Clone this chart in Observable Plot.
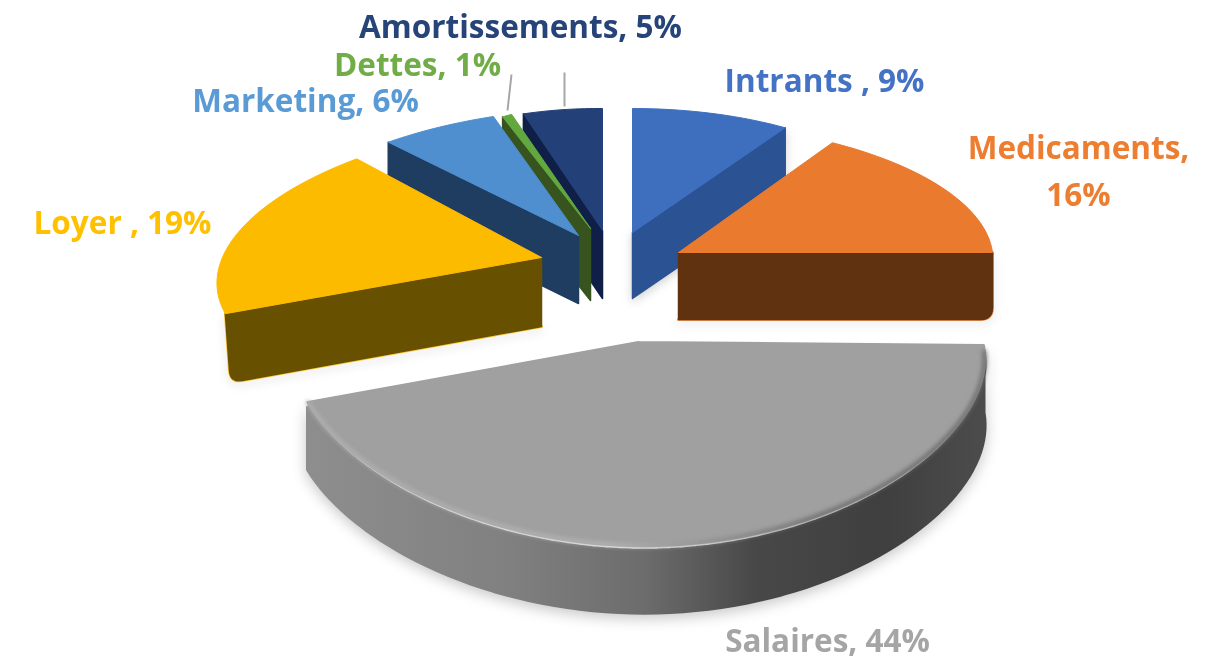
<!DOCTYPE html>
<html><head><meta charset="utf-8">
<script src="https://cdn.jsdelivr.net/npm/d3@7"></script>
<script src="https://cdn.jsdelivr.net/npm/@observablehq/plot@0.6"></script>
<style>html,body{margin:0;padding:0;background:#fff}svg{display:block}</style>
</head><body><div id="chart"></div>
<script>
// data
const categories = ["Intrants ", "Medicaments", "Salaires", "Loyer ", "Marketing", "Dettes", "Amortissements"];
const shares = [9, 16, 44, 19, 6, 1, 5];
const labelTexts = ["Intrants , 9%", "Medicaments,\n16%", "Salaires, 44%", "Loyer , 19%", "Marketing, 6%", "Dettes, 1%", "Amortissements, 5%"];
// styles
const topColors = ["#3e6fbf", "#ea7a2e", "#a0a0a0", "#fdbb00", "#4f8ecf", "#62a83f", "#234178"];
const wallColors = ["#2b5393", "#60320f", "#555555", "#675000", "#1f3d60", "#37541f", "#0f1f47"];
const labelColors = ["#4472c4", "#ed7d31", "#a5a5a5", "#ffc000", "#5b9bd5", "#70ad47", "#264478"];
// layout of the exploded perspective view, one entry per slice
const view = [
  {cx: 632, cy: 232, a: 285, b: 0, c: 0, d: 124, py: 0, depth: 66, wall: "end"},
  {cx: 678, cy: 252, a: 314, b: 17, c: 0, d: 130, py: 0, depth: 67, wall: "end", round: 12, edge: true},
  {cx: 638, cy: 342, a: 345, b: 0, c: 3, d: 157, py: 0.227, px: 0.08, depth: 67, wall: null},
  {cx: 541, cy: 257, a: 321, b: -48, c: -5, d: 140, py: 0, depth: 69, wall: "start", lean: 5, round: 12, edge: true},
  {cx: 578, cy: 235, a: 312, b: -32, c: 0, d: 128, py: 0, depth: 68, wall: "start"},
  {cx: 590, cy: 228, a: 163, b: 30, c: 0, d: 120, py: 0, depth: 72, wall: "start"},
  {cx: 602, cy: 230, a: 256, b: 0, c: 2, d: 122, py: 0, depth: 68, wall: "start"}
];
const labelPos = [[824, 76], [1078, 167], [827, 636], [122, 218], [305, 96], [417, 60], [520, 22]];
const leaders = [{from: 5, x1: 511, y1: 74, x2: 507, y2: 110}, {from: 6, x1: 564, y1: 72, x2: 564, y2: 106}];
const paintOrder = [6, 5, 4, 3, 0, 1, 2];

// geometry derived from the values
const total = d3.sum(shares);
const cum = d3.cumsum(shares);
const angles = shares.map((s, i) => [((cum[i] - s) / total) * 2 * Math.PI, (cum[i] / total) * 2 * Math.PI]);
function project(v, t, down = 0, lean = 0) {
  const u = Math.sin(t), w = -Math.cos(t);
  const s = 1 / (1 - v.py * w), sx = 1 / (1 - (v.px || 0) * w);
  return {x: v.cx + (v.a * u) * sx + v.b * w + lean, y: v.cy + (v.c * u + v.d * w) * s + down};
}
function arc(v, t0, t1, down = 0) {
  const n = Math.max(4, Math.ceil((t1 - t0) / (Math.PI / 90)));
  return d3.range(n + 1).map((k) => project(v, t0 + ((t1 - t0) * k) / n, down));
}
const apex = (v, down = 0) => ({x: v.cx, y: v.cy + down});
function rounded(a, p, b, r) {
  const toward = (q) => { const l = Math.hypot(q.x - p.x, q.y - p.y); return {x: p.x + (r * (q.x - p.x)) / l, y: p.y + (r * (q.y - p.y)) / l}; };
  const q1 = toward(a), q2 = toward(b);
  return d3.range(7).map((k) => { const m = k / 6, n = 1 - m; return {x: n * n * q1.x + 2 * n * m * p.x + m * m * q2.x, y: n * n * q1.y + 2 * n * m * p.y + m * m * q2.y}; });
}

const soft = "blur(0.5px)";
const shadow = "drop-shadow(0 3px 5px rgba(0,0,0,0.18)) blur(0.4px)";

const defs = () => {
  const d = d3.create("svg:defs");
  const rim = d.append("linearGradient").attr("id", "rimG").attr("gradientUnits", "userSpaceOnUse")
    .attr("x1", 305).attr("x2", 985).attr("y1", 0).attr("y2", 0);
  [[0, "#8e8e8e"], [0.3, "#808080"], [0.5, "#6c6c6c"], [0.66, "#484848"], [0.85, "#3f3f3f"], [1, "#4c4c4c"]]
    .forEach(([o, c]) => rim.append("stop").attr("offset", o).attr("stop-color", c));
  const bev = d.append("linearGradient").attr("id", "bevG").attr("gradientUnits", "userSpaceOnUse")
    .attr("x1", 305).attr("x2", 985).attr("y1", 0).attr("y2", 0);
  [[0, "#b0b0b0"], [0.45, "#b4b4b4"], [0.62, "#8a8a8a"], [0.75, "#6a6a6a"], [1, "#6a6a6a"]]
    .forEach(([o, c]) => bev.append("stop").attr("offset", o).attr("stop-color", c));
  return d.node();
};

const marks = [defs];
for (const i of paintOrder) {
  const v = view[i];
  const [t0, t1] = angles[i];
  // outer rim of the front slice
  if (i === 2) {
    const rimTop = arc(v, t0, t1, 5);
    const rimBottom = arc(v, t0, t1, v.depth).reverse();
    marks.push(Plot.line([...rimTop, ...rimBottom, rimTop[0]], {
      x: "x", y: "y", fill: "url(#rimG)", stroke: "url(#rimG)", strokeWidth: 4, imageFilter: "drop-shadow(0 4px 7px rgba(0,0,0,0.22)) blur(0.4px)"
    }));
  }
  // radial wall
  if (v.wall) {
    const t = v.wall === "end" ? t1 : t0;
    const A = apex(v), E = project(v, t), P = project(v, t, v.depth, v.lean || 0), B = apex(v, v.depth);
    const outer = v.round ? rounded(E, P, B, v.round) : [P];
    const wall = [A, E, ...outer, B, A];
    if (v.edge) marks.push(Plot.line([E, ...outer, B], {x: "x", y: "y", stroke: topColors[i], strokeWidth: 3, strokeOpacity: 0.8, imageFilter: shadow}));
    marks.push(Plot.line(wall, {
      x: "x", y: "y", fill: wallColors[i], stroke: wallColors[i], strokeWidth: 1.5,
      imageFilter: v.edge ? soft : i === 0 ? shadow : soft
    }));
  }
  // top face
  const face = [apex(v), ...arc(v, t0, t1), apex(v)];
  marks.push(Plot.line(face, {x: "x", y: "y", fill: topColors[i], stroke: topColors[i], strokeWidth: i === 2 ? 3 : 1, imageFilter: soft}));
  if (i === 2) {
    marks.push(Plot.line(arc(v, t0 + 0.04, t1), {x: "x", y: "y", stroke: "url(#bevG)", strokeWidth: 4, imageFilter: "blur(2px)"}));
  }
}
marks.push(Plot.link(leaders, {x1: "x1", y1: "y1", x2: "x2", y2: "y2", stroke: "#a6a6a6", strokeWidth: 2, imageFilter: soft}));
marks.push(Plot.text(labelTexts.map((t, i) => ({t, i, cat: categories[i], x: labelPos[i][0], y: labelPos[i][1]})), {
  x: "x", y: "y", text: "t", fill: (d) => labelColors[d.i], fontSize: 31.5, fontWeight: 700, lineHeight: 1.5,
  fontFamily: "'Open Sans', Lato, sans-serif", textAnchor: "middle", imageFilter: "blur(0.35px)"
}));

const chart = Plot.plot({
  width: 1221, height: 660, margin: 0,
  style: {background: "#fff"},
  x: {domain: [0, 1221], range: [0, 1221], axis: null},
  y: {domain: [0, 660], range: [0, 660], axis: null},
  color: {type: "identity"},
  marks
});
document.getElementById("chart").append(chart);
</script></body></html>
